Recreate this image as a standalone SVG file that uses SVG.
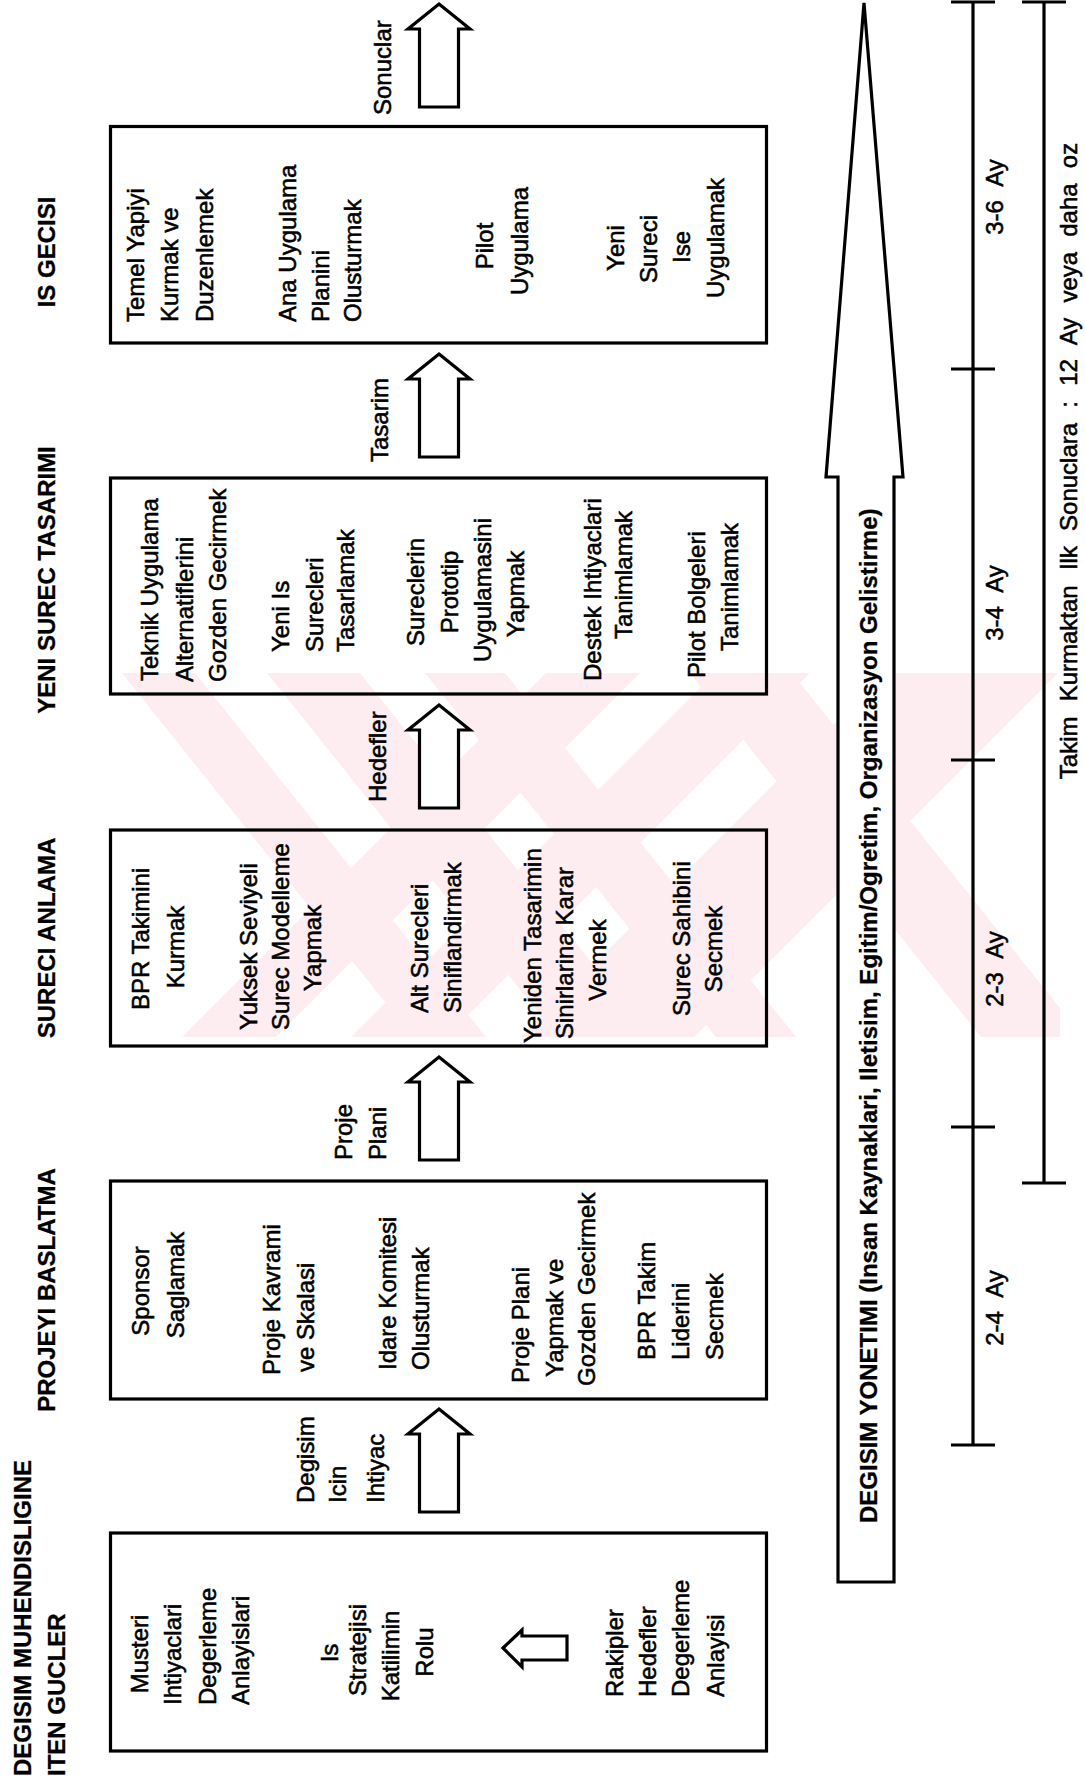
<svg xmlns="http://www.w3.org/2000/svg" width="1085" height="1788" viewBox="0 0 1085 1788">
  <style>
    .box { fill: none; stroke: #000; stroke-width: 3.2; }
    .ln { fill: none; stroke: #000; stroke-width: 3.2; }
    .arr { fill: #fff; stroke: #000; stroke-width: 3.2; stroke-linejoin: miter; }
    .wm { fill: #fdecf0; stroke: none; }
    text { font-family: "Liberation Sans", Arial, sans-serif; fill: #000; }
    .t { font-size: 24px; stroke: #000; stroke-width: 0.55px; }
    .h { font-size: 24px; font-weight: bold; stroke: #000; stroke-width: 0.3px; }
    .s { text-anchor: start; }
    .m { text-anchor: middle; }
    .wide { word-spacing: 8px; }
  </style>
  <defs>
    <!-- hollow block arrow pointing up, tip at origin -->
    <path id="upArrow" class="arr" d="M0,0 L31,25 L19.5,25 L19.5,103 L-19.5,103 L-19.5,25 L-31,25 Z"/>
    <clipPath id="wmClip">
      <rect x="110" y="673" width="950" height="364"/>
    </clipPath>
  </defs>
  <rect width="1085" height="1788" fill="#fff"/>

  <!-- pale striped background emblem -->
  <g id="watermark" clip-path="url(#wmClip)">
    <polygon class="wm" points="122,673 195,673 486,1037 413,1037"/>
    <polygon class="wm" points="267,673 360,673 651,1037 558,1037"/>
    <polygon class="wm" points="425,673 505,673 796,1037 716,1037"/>
    <polygon class="wm" points="690,673 792,673 1083,1037 981,1037"/>
    <polygon class="wm" points="546,673 640,673 276,1037 182,1037"/>
    <polygon class="wm" points="715,673 810,673 446,1037 351,1037"/>
    <polygon class="wm" points="885,673 1058,673 694,1037 521,1037"/>
  </g>

  <!-- phase titles -->
  <g id="titles">
    <text class="h m" transform="translate(55 252) rotate(-90)">IS GECISI</text>
    <text class="h m" transform="translate(55 580) rotate(-90)">YENI SUREC TASARIMI</text>
    <text class="h m" transform="translate(55 938) rotate(-90)">SURECI ANLAMA</text>
    <text class="h m" transform="translate(55 1290) rotate(-90)">PROJEYI BASLATMA</text>
    <text class="h s" transform="translate(31 1776) rotate(-90)">DEGISIM MUHENDISLIGINE</text>
    <text class="h s" transform="translate(65 1776) rotate(-90)">ITEN GUCLER</text>
  </g>

  <!-- phase 5: business transition -->
  <g id="is-gecisi">
    <rect class="box" x="110.5" y="126.5" width="656" height="216.5"/>
    <text class="t s" transform="translate(144 322) rotate(-90)">Temel Yapiyi</text>
    <text class="t s" transform="translate(178 322) rotate(-90)">Kurmak ve</text>
    <text class="t s" transform="translate(213 322) rotate(-90)">Duzenlemek</text>
    <text class="t s" transform="translate(296 322) rotate(-90)">Ana Uygulama</text>
    <text class="t s" transform="translate(329 322) rotate(-90)">Planini</text>
    <text class="t s" transform="translate(361 322) rotate(-90)">Olusturmak</text>
    <text class="t m" transform="translate(493 246) rotate(-90)">Pilot</text>
    <text class="t m" transform="translate(528 241) rotate(-90)">Uygulama</text>
    <text class="t m" transform="translate(624 248) rotate(-90)">Yeni</text>
    <text class="t m" transform="translate(657 249) rotate(-90)">Sureci</text>
    <text class="t m" transform="translate(690 247) rotate(-90)">Ise</text>
    <text class="t m" transform="translate(724 238) rotate(-90)">Uygulamak</text>
  </g>

  <!-- phase 4: new process design -->
  <g id="yeni-surec-tasarimi">
    <rect class="box" x="110.5" y="478" width="656" height="216"/>
    <text class="t s" transform="translate(158 681) rotate(-90)">Teknik Uygulama</text>
    <text class="t s" transform="translate(193 682) rotate(-90)">Alternatiflerini</text>
    <text class="t s" transform="translate(226 682) rotate(-90)">Gozden Gecirmek</text>
    <text class="t s" transform="translate(289 652) rotate(-90)">Yeni Is</text>
    <text class="t s" transform="translate(323 652) rotate(-90)">Surecleri</text>
    <text class="t s" transform="translate(354 652) rotate(-90)">Tasarlamak</text>
    <text class="t m" transform="translate(424 592) rotate(-90)">Sureclerin</text>
    <text class="t m" transform="translate(458 592) rotate(-90)">Prototip</text>
    <text class="t m" transform="translate(491 590) rotate(-90)">Uygulamasini</text>
    <text class="t m" transform="translate(524 594) rotate(-90)">Yapmak</text>
    <text class="t s" transform="translate(601 681) rotate(-90)">Destek Ihtiyaclari</text>
    <text class="t s" transform="translate(632 639) rotate(-90)">Tanimlamak</text>
    <text class="t s" transform="translate(705 678) rotate(-90)">Pilot Bolgeleri</text>
    <text class="t s" transform="translate(738 651) rotate(-90)">Tanimlamak</text>
  </g>

  <!-- phase 3: understanding the process -->
  <g id="sureci-anlama">
    <rect class="box" x="110.5" y="830" width="656" height="216"/>
    <text class="t s" transform="translate(149 1010) rotate(-90)">BPR Takimini</text>
    <text class="t m" transform="translate(184 947) rotate(-90)">Kurmak</text>
    <text class="t s" transform="translate(257 1030) rotate(-90)">Yuksek Seviyeli</text>
    <text class="t s" transform="translate(289 1030) rotate(-90)">Surec Modelleme</text>
    <text class="t m" transform="translate(321 948) rotate(-90)">Yapmak</text>
    <text class="t s" transform="translate(428 1013) rotate(-90)">Alt Surecleri</text>
    <text class="t s" transform="translate(461 1013) rotate(-90)">Siniflandirmak</text>
    <text class="t s" transform="translate(541 1043) rotate(-90)">Yeniden Tasarimin</text>
    <text class="t s" transform="translate(573 1039) rotate(-90)">Sinirlarina Karar</text>
    <text class="t m" transform="translate(606 960) rotate(-90)">Vermek</text>
    <text class="t s" transform="translate(690 1016) rotate(-90)">Surec Sahibini</text>
    <text class="t m" transform="translate(722 949) rotate(-90)">Secmek</text>
  </g>

  <!-- phase 2: project launch -->
  <g id="projeyi-baslatma">
    <rect class="box" x="110.5" y="1181" width="656" height="218"/>
    <text class="t m" transform="translate(149 1291) rotate(-90)">Sponsor</text>
    <text class="t m" transform="translate(184 1285) rotate(-90)">Saglamak</text>
    <text class="t s" transform="translate(280 1375) rotate(-90)">Proje Kavrami</text>
    <text class="t s" transform="translate(314 1372) rotate(-90)">ve Skalasi</text>
    <text class="t s" transform="translate(396 1370) rotate(-90)">Idare Komitesi</text>
    <text class="t s" transform="translate(429 1370) rotate(-90)">Olusturmak</text>
    <text class="t s" transform="translate(529 1383) rotate(-90)">Proje Plani</text>
    <text class="t s" transform="translate(563 1377) rotate(-90)">Yapmak ve</text>
    <text class="t s" transform="translate(595 1386) rotate(-90)">Gozden Gecirmek</text>
    <text class="t s" transform="translate(655 1360) rotate(-90)">BPR Takim</text>
    <text class="t s" transform="translate(689 1360) rotate(-90)">Liderini</text>
    <text class="t s" transform="translate(723 1360) rotate(-90)">Secmek</text>
  </g>

  <!-- phase 1: driving forces -->
  <g id="iten-gucler">
    <rect class="box" x="110.5" y="1533" width="656" height="218"/>
    <text class="t m" transform="translate(148 1654) rotate(-90)">Musteri</text>
    <text class="t s" transform="translate(181 1705) rotate(-90)">Ihtiyaclari</text>
    <text class="t s" transform="translate(216 1705) rotate(-90)">Degerleme</text>
    <text class="t s" transform="translate(249 1705) rotate(-90)">Anlayislari</text>
    <text class="t m" transform="translate(338 1653) rotate(-90)">Is</text>
    <text class="t m" transform="translate(366 1650) rotate(-90)">Stratejisi</text>
    <text class="t m" transform="translate(399 1656) rotate(-90)">Katilimin</text>
    <text class="t m" transform="translate(433 1652) rotate(-90)">Rolu</text>
    <path class="arr" d="M503,1648 L522,1630 L522,1636 L567,1636 L567,1660 L522,1660 L522,1667 Z"/>
    <text class="t s" transform="translate(623 1697) rotate(-90)">Rakipler</text>
    <text class="t s" transform="translate(656 1697) rotate(-90)">Hedefler</text>
    <text class="t s" transform="translate(689 1697) rotate(-90)">Degerleme</text>
    <text class="t s" transform="translate(724 1697) rotate(-90)">Anlayisi</text>
  </g>

  <!-- flow arrows between phases -->
  <g id="connectors">
    <use href="#upArrow" x="439" y="4"/>
    <use href="#upArrow" x="439" y="354"/>
    <use href="#upArrow" x="439" y="705"/>
    <use href="#upArrow" x="439" y="1057"/>
    <use href="#upArrow" x="439" y="1409"/>
    <text class="t s" transform="translate(391 115) rotate(-90)">Sonuclar</text>
    <text class="t s" transform="translate(388 462) rotate(-90)">Tasarim</text>
    <text class="t s" transform="translate(386 802) rotate(-90)">Hedefler</text>
    <text class="t s" transform="translate(352 1160) rotate(-90)">Proje</text>
    <text class="t s" transform="translate(386 1160) rotate(-90)">Plani</text>
    <text class="t s" transform="translate(314 1503) rotate(-90)">Degisim</text>
    <text class="t s" transform="translate(346 1503) rotate(-90)">Icin</text>
    <text class="t s" transform="translate(384 1503) rotate(-90)">Ihtiyac</text>
  </g>

  <!-- change management band -->
  <g id="degisim-yonetimi">
    <path class="arr" d="M864,3 L903,477 L894,477 L894,1582 L838,1582 L838,477 L826,477 Z"/>
    <text class="h s" transform="translate(877 1523) rotate(-90)">DEGISIM YONETIMI (Insan Kaynaklari, Iletisim, Egitim/Ogretim, Organizasyon Gelistirme)</text>
  </g>

  <!-- time scale -->
  <g id="zaman-olcegi">
    <path class="ln" d="M973,2 V1445 M951,2 H995 M951,369 H995 M951,760 H995 M951,1127 H995 M951,1445 H995"/>
    <path class="ln" d="M1044,2 V1183 M1022,2 H1066 M1022,1183 H1066"/>
    <text class="t m wide" transform="translate(1003 197) rotate(-90)">3-6 Ay</text>
    <text class="t m wide" transform="translate(1003 603) rotate(-90)">3-4 Ay</text>
    <text class="t m wide" transform="translate(1003 969) rotate(-90)">2-3 Ay</text>
    <text class="t m wide" transform="translate(1003 1308) rotate(-90)">2-4 Ay</text>
    <text class="t m" style="word-spacing:8.5px" transform="translate(1077 461) rotate(-90)">Takim Kurmaktan Ilk Sonuclara : 12 Ay veya daha oz</text>
  </g>
</svg>
